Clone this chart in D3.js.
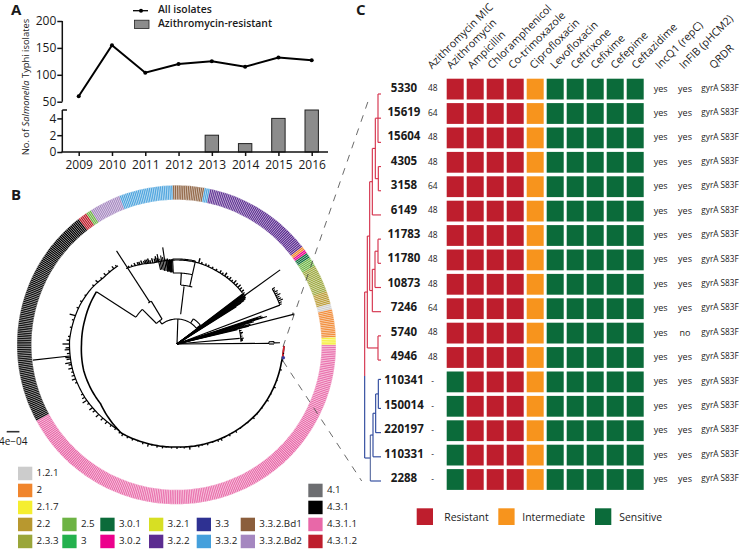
<!DOCTYPE html>
<html><head><meta charset="utf-8">
<script src="https://cdnjs.cloudflare.com/ajax/libs/d3/7.8.5/d3.min.js"></script>
<style>
html,body{margin:0;padding:0;background:#fff}
svg{display:block}
text{font-family:"Open Sans",sans-serif;fill:#1a1a1a}
</style></head><body>
<svg id="c" width="740" height="549"></svg>
<script>
// ---------- Panel A data ----------
const years=[2009,2010,2011,2012,2013,2014,2015,2016];
const allIsolates=[60,155,104,120,125,115,132,127];
const azithroResistant=[0,0,0,0,2,1,4,5];
const upperTicks=[50,100,150,200];
const lowerTicks=[0,2,4];
// ---------- Panel B data ----------
const lineageColors={"1.2.1":"#cccccc","2":"#f0852d","2.1.7":"#f5ee30","2.2":"#b8982f","2.3.3":"#9aa63a","2.5":"#6db344","3":"#23b14d","3.0.1":"#0b6b3a","3.0.2":"#ec008c","3.2.1":"#d7df23","3.2.2":"#5c2d91","3.3":"#2e3192","3.3.2":"#45a0dc","3.3.2.Bd1":"#8b5e3c","3.3.2.Bd2":"#a587c0","4.1":"#6d6e71","4.3.1":"#000000","4.3.1.1":"#e868a8","4.3.1.2":"#be1e2d"};
const ringLineages=["4.3.1.1","4.3.1","4.3.1.2","2.5","3.3.2.Bd2","3.3.2","3.3.2.Bd1","3.3.2","3.2.2","2","3.0.2","3.0.1","2.5","2.3.3","2.2","1.2.1","2","2.1.7"];
const ringCounts=[224,119,5,3,17,29,17,3,59,2,2,3,5,15,7,3,15,4];
const legendEntries=[["1.2.1",0,0],["2",0,1],["2.1.7",0,2],["2.2",0,3],["2.3.3",0,4],["2.5",1,3],["3",1,4],["3.0.1",2,3],["3.0.2",2,4],["3.2.1",3,3],["3.2.2",3,4],["3.3",4,3],["3.3.2",4,4],["3.3.2.Bd1",5,3],["3.3.2.Bd2",5,4],["4.1",6,1],["4.3.1",6,2],["4.3.1.1",6,3],["4.3.1.2",6,4]];
// tree: polar values (angle clockwise from top in degrees, distance from root)
const backboneA=[[91,107],[100,106],[120,106],[130,106],[150,104.5],[180,103],[200,104],[212,105],[222,101],[232,97],[254,97],[270,95.5],[285,95.3],[303,96]];
const backboneB=[[214,104],[222,104.5],[240,106.5],[256,107.5],[272,107.5],[292,104.5],[303,102],[312,99],[323,98]];
const backboneC=[[326,91],[343.5,84.5],[357,84],[372,84],[390,83],[412,83]];
const spokes=[[2,0,25],[-37,25,29],[33,25,30],[51,25,30],[7,30,58],[3.5,59,71],[12.5,59,71],[-3,71,85],[12.5,71,85],
[-45,29,49],[-31,29,50],[-33,50,111],[-57,49,96],[263.6,108,145],
[54.3,0,127],[52.6,0,85],[53,0,84],[53.4,0,84],[53.8,0,82],[54.6,0,84],[55,0,83],[55.4,0,83],[55.8,0,83],[56.2,0,82],[56.6,0,82],[57,0,80],[57.4,0,76],[57.8,0,70],
[75.7,0,120],[73,0,94],[72.6,0,90],[71.7,0,89],[72.2,0,85],[73.3,0,78],[73.8,0,80],[74.5,0,70],[75,0,76],[72.5,0,84],[76,0,74],[76.6,0,62],[69.3,0,110],[84.9,0,63],[89.6,0,92],[88.6,92,97],[90,92,97],[89.3,97,103],
[-8.4,74,97.7],[-7.4,73,86],[-7,73,85],[-6.4,73,86],[-6,73,84],[-5.6,73,84],[-5.2,72,85],[-4.8,72,85],[-4.5,72,84],[-4.1,72,84],[-3.8,72,85],[-9.5,74,88],[-10.5,75,90],[-11.5,76,87],[-12.5,76,92]];
const arcs=[[25,-37,51],[30,33,51],[59,4,15],[71,-3,12.5],[85,-3,12.5],[29,-45,-31],[50,-35,-31],[49,-56.5,-45],[110,60,69.3],[64,77,88],[92,88.6,90],[97,88.6,90],[120,74.8,76.6]];
const tipsA=[[95,1],[99,1.5],[104,2],[110,1],[114,2],[118,1],[122,2],[127,1],[131,1],[134,2],[138,1],[143,1],[146,2],[150,2],[153,1],[155,2.5],[157,2],[160,1],[163,2],[166,1],[168,2],[170,1],[173,3],[176,1.5],[178,1],[180,2],[183,1.5],[186,1],[188,2],[191,2],[194,1],[196,3],[199,2],[202,1],[205,2],[208,2],[211,2.5],[213,2]];
const tipsB=[[216,2],[219,2],[222,3],[225,3],[228,4],[231,3],[233,4],[236,2],[238,5],[240,3],[242,2],[249,2],[251,4],[253,3],[255,2],[257,4],[259,3],[260,6],[262,4],[263,5],[265,3],[267,5],[268,4],[270,7],[272,3],[274,2],[279,2],[283,2],[285.6,6],[290,2],[294,2],[298,1.5],[305,2],[308,3],[311,2],[314,3],[317,2],[320,3],[322,2]];
const tipsC=[[328,2],[330,2],[332,3],[334,3],[335,3],[336.5,4],[338,3],[339,4],[340,4],[341,5],[342,3],[343.5,5],[345,4],[346,6],[347,4],[375,5],[377,2],[380,2],[382,2],[385,2],[388,2],[391,3],[393,2],[395,4],[397,2],[399,3],[401,2],[403,4],[405,3],[407,4],[409,3],[411,3]];
const clusterTips=[[110,[60,3],[61,2],[62,4],[63,3],[64,5],[65,3],[66,4],[67,5],[68,3],[69,2]],[64,[78,2],[80,3],[81,2],[83,2],[85,3],[86,2],[87,2]]];
// ---------- Panel C data ----------
const drugHeaders=["Azithromycin","Ampicillin","Chloramphenicol","Co-trimoxazole","Ciprofloxacin","Levofloxacin","Ceftrixone","Cefixime","Cefepime","Ceftazidime"];
const isolates=["5330","15619","15604","4305","3158","6149","11783","11780","10873","7246","5740","4946","110341","150014","220197","110331","2288"];
const mic=["48","64","48","48","64","48","48","48","48","64","48","48","-","-","-","-","-"];
const incQ1=Array.from(isolates,()=>"yes");
const inFIB=["yes","yes","yes","yes","yes","yes","yes","yes","yes","yes","no","yes","yes","yes","yes","yes","yes"];
const qrdr=isolates.map(()=>"gyrA S83F");
const azithroStatus=["R","R","R","R","R","R","R","R","R","R","R","R","S","S","S","S","S"];
const otherStatus=["R","R","R","I","S","S","S","S","S"];
const statusColors={R:"#be1e2d",I:"#f7941d",S:"#0b6b3a"};
const statusLegend=[["R","Resistant",416.7,444.3],["I","Intermediate",498.3,522.3],["S","Sensitive",595,619.3]];
const dendro={d:29,children:[{d:37,children:[{d:44,children:[
 {d:52,children:[{d:61,children:[{d:69,children:[{r:0},{r:2}],extra:1},{d:70,children:[{r:3},{r:4}]}]},{r:5}]},
 {d:52,children:[{d:60,children:[{d:69,children:[{r:6},{r:7}]},{r:8}]},{r:9}]}]},
 {d:69,children:[{r:10},{r:11}]}]},
 {d:46,children:[{d:54,children:[{d:62,children:[{d:70,children:[{r:11.8},{r:13}]},{r:14}]},{r:15}]},{r:16}]}]};

// ---------- setup ----------
const svg=d3.select("#c");
const tx=(s,x,y,size,o={})=>svg.append("text").attr("x",x).attr("y",y).attr("font-size",size)
 .attr("font-weight",o.w||400).attr("text-anchor",o.a||"start").attr("dominant-baseline","middle").text(s);
tx("A",11,11,15,{w:700});tx("B",11,196,15,{w:700});tx("C",356,11,15,{w:700});

// Panel A
const xA=d3.scalePoint().domain(years).range([78.7,311.7]);
const yU=d3.scaleLinear().domain([50,200]).range([101.7,21]);
const yL=d3.scaleLinear().domain([0,5]).range([152,110]);
const A=svg.append("g");
const axStyle=g=>{g.selectAll("path,line").attr("stroke","#111").attr("stroke-width",1.5);g.selectAll("text").attr("font-size",12).attr("font-family",'"Open Sans",sans-serif').attr("fill","#1a1a1a");};
A.append("g").attr("transform","translate(62.3,0)").call(d3.axisLeft(yU).tickValues(upperTicks).tickSize(5).tickPadding(1).tickSizeOuter(0)).call(axStyle).call(g=>g.select(".domain").remove());
A.append("line").attr("x1",62.3).attr("x2",62.3).attr("y1",yU(200)).attr("y2",yU(50)).attr("stroke","#111").attr("stroke-width",1.5);
A.append("g").attr("transform","translate(62.3,0)").call(d3.axisLeft(yL).tickValues(lowerTicks).tickFormat(d3.format("d")).tickSize(5).tickPadding(1)).call(axStyle).call(g=>g.select(".domain").remove());
A.append("line").attr("x1",62.3).attr("x2",62.3).attr("y1",yL(5)).attr("y2",yL(0)).attr("stroke","#111").attr("stroke-width",1.5);
A.append("line").attr("x1",62.3).attr("x2",67).attr("y1",yL(5)).attr("y2",yL(5)).attr("stroke","#111").attr("stroke-width",1.5);
A.append("g").selectAll("rect").data(years).join("rect")
 .attr("x",d=>xA(d)-6.7).attr("width",13.4).attr("y",(d,i)=>yL(azithroResistant[i])).attr("height",(d,i)=>yL(0)-yL(azithroResistant[i]))
 .attr("fill","#8c8c8c").attr("stroke","#222").attr("stroke-width",1).attr("display",(d,i)=>azithroResistant[i]?null:"none");
A.append("g").attr("transform","translate(0,152)").call(d3.axisBottom(xA).tickFormat(d3.format("d")).tickSize(4).tickPadding(4)).call(axStyle).call(g=>g.select(".domain").remove()).call(g=>g.selectAll("text").attr("font-size",12));
A.append("line").attr("x1",61.5).attr("x2",328).attr("y1",152).attr("y2",152).attr("stroke","#111").attr("stroke-width",1.5);
A.append("path").datum(allIsolates).attr("fill","none").attr("stroke","#000").attr("stroke-width",2)
 .attr("d",d3.line().x((d,i)=>xA(years[i])).y(d=>yU(d)));
A.append("g").selectAll("circle").data(allIsolates).join("circle").attr("cx",(d,i)=>xA(years[i])).attr("cy",d=>yU(d)).attr("r",2).attr("fill","#000");
const yt=svg.append("text").attr("transform","translate(26,87) rotate(-90)").attr("text-anchor","middle").attr("dominant-baseline","middle").attr("font-size",9.4);
yt.append("tspan").text("No. of ");yt.append("tspan").attr("font-style","italic").text("Salmonella");yt.append("tspan").text(" Typhi isolates");
svg.append("line").attr("x1",133).attr("x2",148).attr("y1",10.7).attr("y2",10.7).attr("stroke","#000").attr("stroke-width",1.3);
svg.append("circle").attr("cx",141).attr("cy",10.7).attr("r",2).attr("fill","#000");
svg.append("rect").attr("x",134.5).attr("y",20.2).attr("width",14.5).attr("height",8.3).attr("fill","#8c8c8c").attr("stroke","#222").attr("stroke-width",.8);
tx("All isolates",158,10.5,10.4,{w:600});tx("Azithromycin-resistant",158,24,10.4,{w:600});

// Panel B ring
const rad=d3.scaleLinear().domain([0,360]).range([0,2*Math.PI]);
const ringG=svg.append("g").attr("transform","translate(176.5,344.8)");
const total=d3.sum(ringCounts);
const cellScale=d3.scaleLinear().domain([0,total]).range([90,450]);
const cells=ringCounts.flatMap((n,k)=>{const off=d3.sum(ringCounts.slice(0,k));return d3.range(n).map(i=>({i:off+i,l:ringLineages[k]}));});
const ringArc=d3.arc().innerRadius(145).outerRadius(159.5);
ringG.selectAll("path").data(cells).join("path")
 .attr("d",d=>ringArc({startAngle:rad(cellScale(d.i)),endAngle:rad(cellScale(d.i+1))}))
 .attr("fill",d=>lineageColors[d.l]).attr("stroke","#fff").attr("stroke-width",.35);

// Panel B tree
const treeG=svg.append("g").attr("transform","translate(177,344)").attr("fill","none").attr("stroke","#000").attr("stroke-linecap","butt");
const radial=d3.lineRadial().angle(d=>rad(d[0])).radius(d=>d[1]);
const r=d3.scaleLinear().domain([0,160]).range([0,160]);
const dense=(bb)=>{const s=d3.scaleLinear().domain(bb.map(d=>d[0])).range(bb.map(d=>d[1]));return {s,pts:d3.range(bb[0][0],bb[bb.length-1][0]+.01,1).map(a=>[a,r(s(a))])};};
const bA=dense(backboneA),bB=dense(backboneB),bC=dense(backboneC);
[bA,bB,bC].forEach((b,i)=>treeG.append("path").attr("d",radial(b.pts)).attr("stroke-width",i==0?1.6:1.2));
treeG.append("path").attr("d",radial([[91,107],[97,106.5]])).attr("stroke","#e01f2d").attr("stroke-width",1.6);
treeG.selectAll(".sp").data(spokes).join("path").attr("class","sp").attr("stroke-width",1.15)
 .attr("d",d=>radial([[d[0],r(d[1])],[d[0],r(d[2])]]));
treeG.selectAll(".ar").data(arcs).join("path").attr("class","ar").attr("stroke-width",1.1)
 .attr("d",d=>radial(d3.range(d[1],d[2]+.01,Math.max(.5,(d[2]-d[1])/40)).map(a=>[a,r(d[0])])));
const tipPaths=(list,b,w)=>treeG.append("g").selectAll("path").data(list).join("path").attr("stroke-width",w)
 .attr("d",d=>radial([[d[0],r(b.s(d[0]))],[d[0],r(b.s(d[0])+d[1])]]));
tipPaths(tipsA,bA,1.3);tipPaths(tipsB,bB,1.3);tipPaths(tipsC,bC,1.4);
clusterTips.forEach(([base,...t])=>treeG.append("g").selectAll("path").data(t).join("path").attr("stroke-width",1.1)
 .attr("d",d=>radial([[d[0],r(base)],[d[0],r(base+d[1])]])));
svg.append("circle").attr("cx",283.3).attr("cy",357.7).attr("r",1.8).attr("fill","#3a3a9a");
// scale bar
const scaleBarValue=12.7;
svg.append("line").attr("x1",6.7).attr("x2",6.7+r(scaleBarValue)).attr("y1",431.7).attr("y2",431.7).attr("stroke","#333").attr("stroke-width",1.6);
tx("4e\u221204",-1,442.7,10);
// dashed connectors
[[283,346.7,370,95.7],[283,361,361.7,481]].forEach(d=>svg.append("line").attr("x1",d[0]).attr("y1",d[1]).attr("x2",d[2]).attr("y2",d[3]).attr("stroke","#444").attr("stroke-width",.8).attr("stroke-dasharray","7 7"));
// lineage legend
const legCols=[18,62.3,100.3,149,196.7,240.7,308.3];
const legY=d3.scaleLinear().domain([0,4]).range([466.7,534.7]);
const L=svg.append("g");
legendEntries.forEach(([n,c,row])=>{
 L.append("rect").attr("x",legCols[c]).attr("y",legY(row)).attr("width",14.3).attr("height",13.5).attr("fill",lineageColors[n]);
 tx(n,legCols[c]+18.6,legY(row)+7,9.8);
});

// Panel C
const xC=d3.scaleBand().domain(drugHeaders).range([446.7,646.7-3]).paddingInner(3/20);
const step=24.4,cellH=20.8,y0=78.7;
const yC=d3.scaleBand().domain(isolates).range([y0,y0+17*step-(step-cellH)]).paddingInner((step-cellH)/step);
const statuses=azithroStatus.map(a=>[a,...otherStatus]);
const C=svg.append("g");
isolates.forEach((iso,i)=>{
 C.selectAll(null).data(drugHeaders).join("rect").attr("x",d=>xC(d)).attr("y",yC(iso)).attr("width",xC.bandwidth()).attr("height",yC.bandwidth())
  .attr("fill",(d,j)=>statusColors[statuses[i][j]]);
 const cy=yC(iso)+yC.bandwidth()/2;
 tx(iso,404,cy-.5,11.5,{w:700,a:"middle"});
 tx(mic[i],432.7,cy,8.4,{a:"middle"});
 tx(incQ1[i],660.7,cy,9,{a:"middle"});
 tx(inFIB[i],685,cy,9,{a:"middle"});
 tx(qrdr[i],720,cy-.5,8.2,{a:"middle"});
});
const headerLabels=["Azithromycin MIC",...drugHeaders,"IncQ1 (repC)","InFIB (pHCM2)","QRDR"];
const headerX=[430,449,470,490,510.7,532,552.7,573,593,613,634,657.7,681.7,711.7];
headerLabels.forEach((h,i)=>svg.append("text").attr("transform",`translate(${headerX[i]+2},69.5) rotate(-45)`).attr("font-size",10.7).text(h));
// dendrogram
const treeX=d3.scaleLinear().domain([0,180]).range([355,415]);
const treeY=d3.scaleLinear().domain([0,16]).range([94,481]);
const root=d3.hierarchy(dendro);
root.eachAfter(n=>{if(n.children){n.yy=(n.children[0].yy+n.children[n.children.length-1].yy)/2;}else{n.yy=treeY(n.data.r);n.data.d=78;}});
const red="#d5334d",blue="#2f4a9e";
const D=svg.append("g").attr("fill","none").attr("stroke-width",1.15);
const isBlue=n=>n.ancestors().some(a=>a.data.d===46);
root.descendants().forEach(n=>{
 if(!n.children)return;
 const c=isBlue(n)?blue:red;
 if(n.depth===0){
  const split=376;
  D.append("line").attr("x1",treeX(n.data.d)).attr("x2",treeX(n.data.d)).attr("y1",n.children[0].yy).attr("y2",split).attr("stroke",red);
  D.append("line").attr("x1",treeX(n.data.d)).attr("x2",treeX(n.data.d)).attr("y1",split).attr("y2",n.children[1].yy).attr("stroke",blue);
 } else {
  D.append("line").attr("x1",treeX(n.data.d)).attr("x2",treeX(n.data.d)).attr("y1",n.children[0].yy).attr("y2",n.children[n.children.length-1].yy).attr("stroke",n.data.d===46?"#5a6da0":c);
 }
 n.children.forEach(k=>D.append("line").attr("x1",treeX(n.data.d)).attr("x2",treeX(k.data.d)).attr("y1",k.yy).attr("y2",k.yy).attr("stroke",isBlue(k)?blue:red));
 if(n.data.extra)D.append("line").attr("x1",treeX(n.data.d)).attr("x2",treeX(78)).attr("y1",n.yy).attr("y2",n.yy).attr("stroke",red);
});
// status legend
statusLegend.forEach(([k,t,x,tx0])=>{
 svg.append("rect").attr("x",x).attr("y",508.3).attr("width",16.3).attr("height",16.7).attr("fill",statusColors[k]);
 tx(t,tx0,518.3,10.4);
});
</script></body></html>
